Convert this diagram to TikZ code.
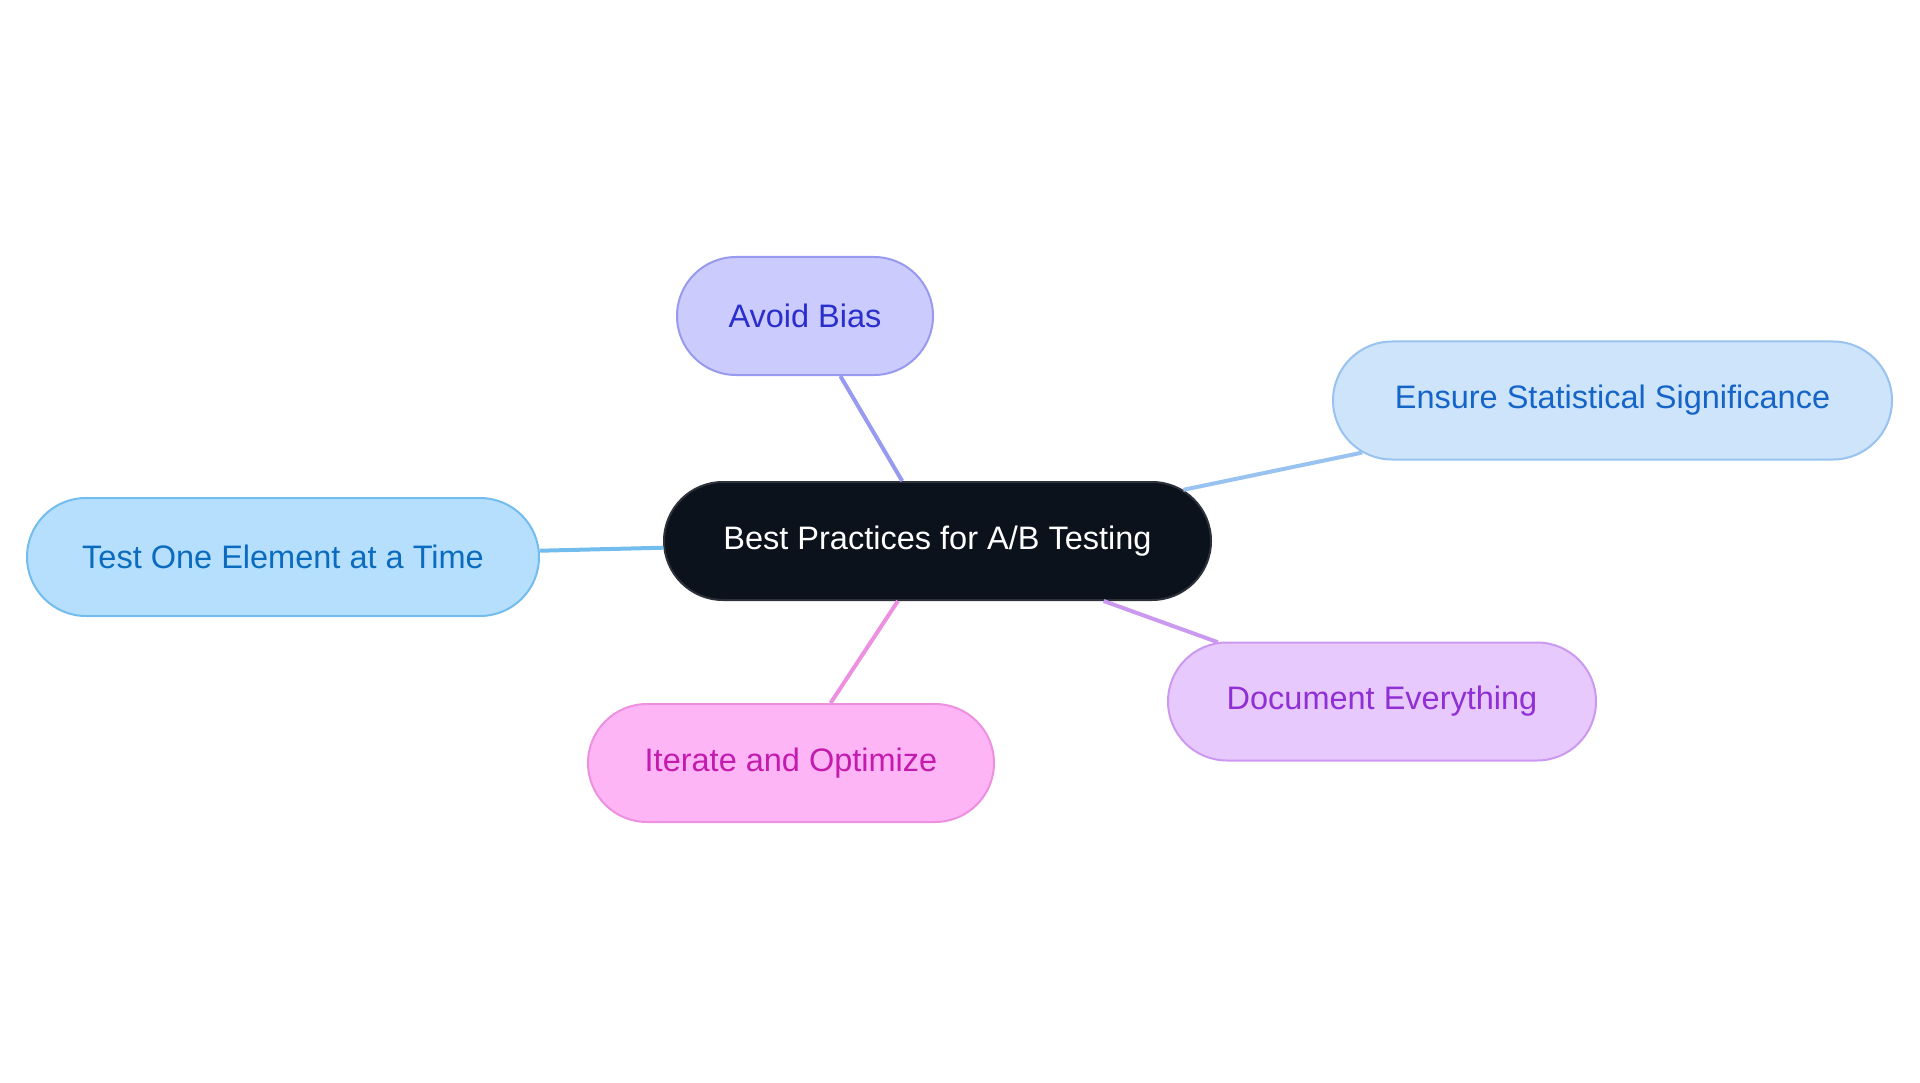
\documentclass[tikz,border=0pt]{standalone}
\usepackage{fontspec}
\setmainfont{Liberation Sans}
\usetikzlibrary{shapes.misc}
\definecolor{hubfill}{RGB}{12,18,28}
\definecolor{hubline}{RGB}{45,50,58}
\definecolor{biasfill}{RGB}{203,204,253}
\definecolor{biasline}{RGB}{152,154,240}
\definecolor{biastext}{RGB}{42,46,204}
\definecolor{statfill}{RGB}{206,228,251}
\definecolor{statline}{RGB}{152,194,240}
\definecolor{stattext}{RGB}{21,101,200}
\definecolor{onefill}{RGB}{181,223,253}
\definecolor{oneline}{RGB}{115,188,238}
\definecolor{onetext}{RGB}{11,108,191}
\definecolor{iterfill}{RGB}{253,181,245}
\definecolor{iterline}{RGB}{238,144,224}
\definecolor{itertext}{RGB}{194,27,174}
\definecolor{docfill}{RGB}{232,201,253}
\definecolor{docline}{RGB}{204,153,240}
\definecolor{doctext}{RGB}{143,47,212}

\begin{document}
\begin{tikzpicture}[x=1pt,y=-1pt,
    topic/.style={rounded rectangle, line width=2pt, minimum height=118pt,
      inner xsep=0pt, font=\fontsize{32.5}{39}\selectfont},
    branch/.style={line width=4pt}]
    \useasboundingbox (0,0) rectangle (1920,1083);
    % central idea and its branches
    \node[topic,fill=hubfill,draw=hubline,text=white,minimum width=547pt] (hub) at (937.5,541) {Best Practices for A/B Testing};
    \node[topic,fill=biasfill,draw=biasline,text=biastext,minimum width=256pt] (bias) at (805,316) {Avoid Bias};
    \node[topic,fill=statfill,draw=statline,text=stattext,minimum width=559pt] (stat) at (1612.5,400.5) {Ensure Statistical Significance};
    \node[topic,fill=onefill,draw=oneline,text=onetext,minimum width=512pt] (one) at (283,557) {Test One Element at a Time};
    \node[topic,fill=iterfill,draw=iterline,text=itertext,minimum width=406pt] (iter) at (791,763) {Iterate and Optimize};
    \node[topic,fill=docfill,draw=docline,text=doctext,minimum width=428pt] (doc) at (1382,701.5) {Document Everything};
    \draw[branch,biasline] (hub) -- (bias);
    \draw[branch,statline] (hub) -- (stat);
    \draw[branch,oneline] (hub) -- (one);
    \draw[branch,iterline] (hub) -- (iter);
    \draw[branch,docline] (hub) -- (doc);
  \end{tikzpicture}
\end{document}
